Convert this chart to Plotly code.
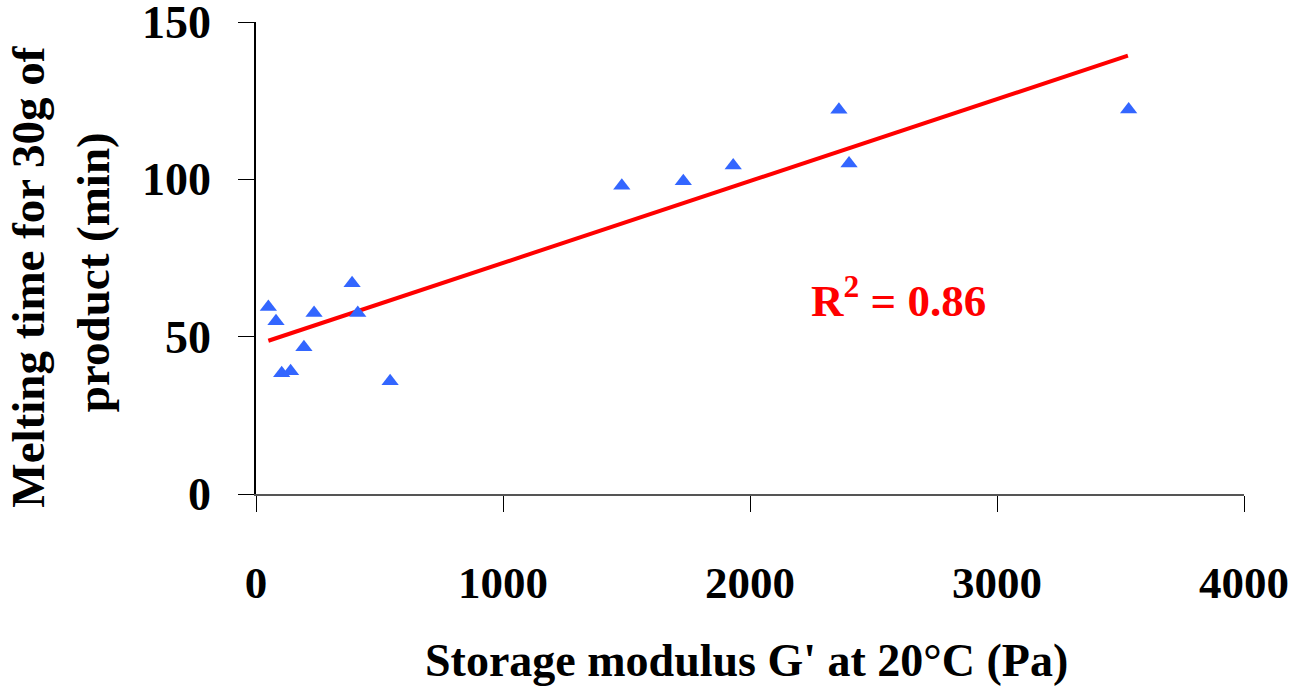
import plotly.graph_objects as go

# Storage modulus G' at 20°C (Pa)
g_modulus = [50, 81, 104, 140, 194, 235, 389, 412, 543, 1481, 1730, 1932, 2360, 2401, 3533]
# Melting time for 30 g of product (min)
melt_time = [59.4, 54.9, 38.4, 39.0, 46.6, 57.5, 67.0, 57.5, 35.8, 98.0, 99.4, 104.4, 122.1, 105.0, 122.2]

# Linear trend line end points
trend_x = [50, 3530]
trend_y = [48.7, 139.3]
r_squared = "0.86"

x_ticks = [0, 1000, 2000, 3000, 4000]
y_ticks = [0, 50, 100, 150]

FONT = "Liberation Serif"

fig = go.Figure()
fig.add_trace(go.Scatter(
    x=trend_x, y=trend_y, mode="lines",
    line=dict(color="#FF0000", width=4),
    showlegend=False, hoverinfo="skip",
))
fig.add_trace(go.Scatter(
    x=g_modulus, y=melt_time, mode="markers",
    marker=dict(symbol="triangle-up", size=15, color="#3366FF"),
    showlegend=False,
))

fig.add_annotation(
    x=2600, y=62.5, xref="x", yref="y",
    text="<b>R<sup>2</sup> = " + r_squared + "</b>",
    showarrow=False,
    font=dict(family=FONT, size=45, color="#FF0000"),
)

# Axis titles (placed as annotations for precise positioning)
fig.add_annotation(
    x=0.496, y=-0.352, xref="paper", yref="paper",
    text="<b>Storage modulus G' at 20°C (Pa)</b>",
    showarrow=False, xanchor="center", yanchor="middle",
    font=dict(family=FONT, size=46, color="black"),
)
fig.add_annotation(
    x=-0.231, y=0.462, xref="paper", yref="paper",
    text="<b>Melting time for 30g of</b>",
    showarrow=False, textangle=-90, xanchor="center", yanchor="middle",
    font=dict(family=FONT, size=47, color="black"),
)
fig.add_annotation(
    x=-0.165, y=0.47, xref="paper", yref="paper",
    text="<b>product (min)</b>",
    showarrow=False, textangle=-90, xanchor="center", yanchor="middle",
    font=dict(family=FONT, size=47, color="black"),
)

fig.update_layout(
    width=1310, height=686,
    margin=dict(l=256, r=66, t=22, b=192, autoexpand=False),
    paper_bgcolor="white", plot_bgcolor="white",
    font=dict(family=FONT, color="black"),
)
fig.update_xaxes(
    range=[0, 4000], tickvals=x_ticks,
    ticktext=[f"<b>{v}</b>" for v in x_ticks],
    showgrid=False, zeroline=False, automargin=False,
    showline=True, linecolor="#555555", linewidth=2,
    ticks="outside", ticklen=16, tickcolor="black", tickwidth=1,
    tickfont=dict(family=FONT, size=45, color="black"),
    ticklabelstandoff=32, ticklabeloverflow="allow",
)
fig.update_yaxes(
    range=[0, 150], tickvals=y_ticks,
    ticktext=[f"<b>{v}</b>" for v in y_ticks],
    showgrid=False, zeroline=False, automargin=False,
    showline=True, linecolor="black", linewidth=1.5,
    ticks="outside", ticklen=16, tickcolor="black", tickwidth=1,
    tickfont=dict(family=FONT, size=46, color="black"),
    ticklabelstandoff=18, ticklabeloverflow="allow",
)

fig.write_html("out.html")
